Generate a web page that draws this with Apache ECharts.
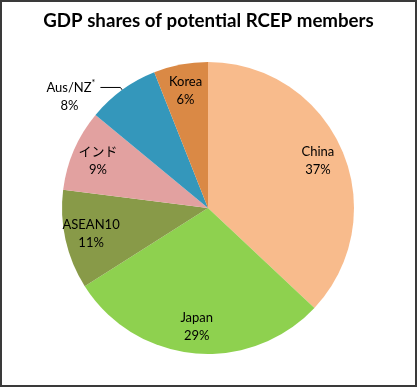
<!DOCTYPE html>
<html>
<head>
<meta charset="utf-8">
<script src="https://cdn.jsdelivr.net/npm/echarts@6/dist/echarts.min.js"></script>
<style>
html,body{margin:0;padding:0;background:#fff;}
#chart{width:417px;height:387px;}
</style>
</head>
<body>
<div id="chart"></div>
<script>
const titleText = 'GDP shares of potential RCEP members';
const categories = ['China', 'Japan', 'ASEAN10', 'インド', 'Aus/NZ*', 'Korea'];
const shares = [37, 29, 11, 9, 8, 6];
const colors = ['#F8BB8C', '#8ED14F', '#889A48', '#E2A1A0', '#3497BB', '#DA8945'];
const outsideLabels = ['Aus/NZ*'];

const FONT = 'Lato, "Noto Sans CJK JP", sans-serif';
const R = 146;

function fmt(p) {
  return '{t|' + p.name + '}\n{t|' + p.value + '%}';
}

const baseData = categories.map((c, i) => ({
  name: c, value: shares[i], itemStyle: { color: colors[i] }
}));

const labelData = categories.map((c, i) => {
  const outside = outsideLabels.includes(c);
  return {
    name: c, value: shares[i],
    itemStyle: { color: 'rgba(0,0,0,0)' },
    label: outside ? {
      position: 'outside',
      padding: [18, 0, 0, 0],
      formatter: p => '{o|' + p.name.replace('*', '') + '}{osup|*}\n{c|' + p.value + '%}',
      rich: {
        o: { fontSize: 13, fontFamily: FONT, color: '#000', lineHeight: 18 },
        osup: { fontSize: 9, fontFamily: FONT, color: '#000', verticalAlign: 'top', lineHeight: 18, padding: [0, 0, 6, 0] },
        c: { fontSize: 13, fontFamily: FONT, color: '#000', lineHeight: 18, width: 52, align: 'center' }
      }
    } : { position: 'inside' },
    labelLine: outside ? { show: true, length: 3, length2: 20, lineStyle: { color: '#000', width: 1 } } : { show: false }
  };
});

const chart = echarts.init(document.getElementById('chart'), null, { renderer: 'canvas' });
chart.setOption({
  animation: false,
  backgroundColor: '#fff',
  title: {
    text: titleText, left: 'center', top: 7,
    textStyle: { fontFamily: FONT, fontSize: 18.7, fontWeight: 'bold', color: '#000' }
  },
  graphic: [{
    type: 'rect', silent: true,
    shape: { x: 1, y: 1, width: 415, height: 385 },
    style: { fill: 'none', stroke: '#3a3a3a', lineWidth: 2 }
  }],
  series: [
    {
      type: 'pie', center: [208, 208], radius: [0, R],
      startAngle: 90, clockwise: true, silent: true,
      avoidLabelOverlap: false,
      label: { show: false }, labelLine: { show: false },
      data: baseData
    },
    {
      type: 'pie', center: [208, 208], radius: [R * 0.6, R],
      startAngle: 90, clockwise: true, silent: true,
      avoidLabelOverlap: false,
      label: {
        show: true, formatter: fmt,
        rich: {
          t: { fontSize: 13, fontFamily: FONT, color: '#000', lineHeight: 18 }
        }
      },
      data: labelData
    }
  ]
});
</script>
</body>
</html>
